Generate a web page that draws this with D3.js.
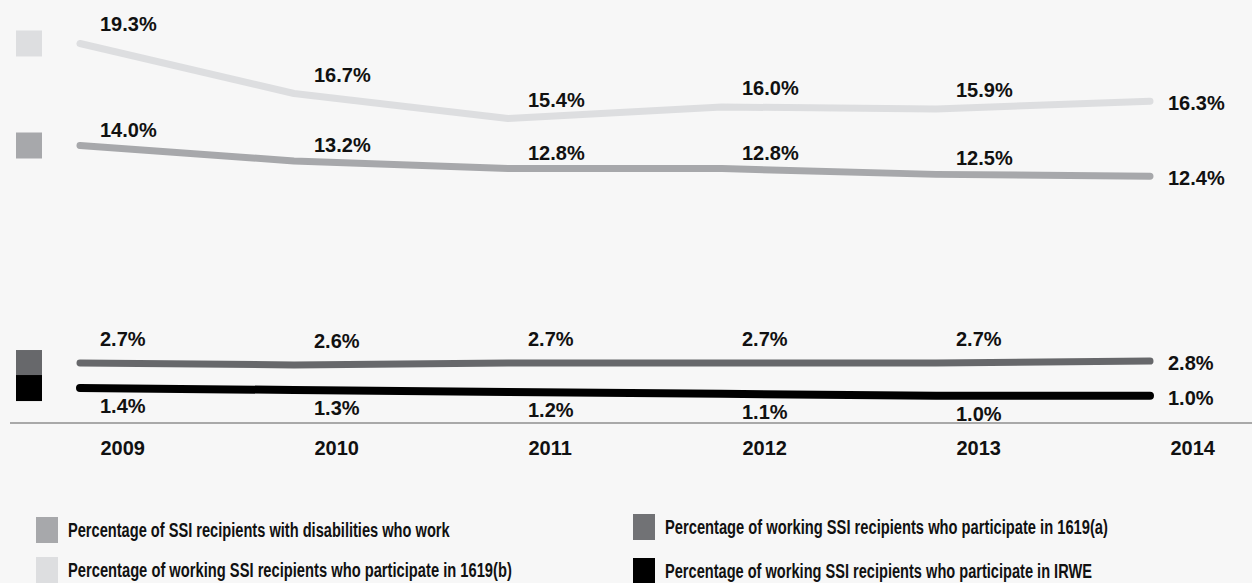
<!DOCTYPE html>
<html>
<head>
<meta charset="utf-8">
<script src="https://cdn.jsdelivr.net/npm/d3@7"></script>
<style>
  html, body { margin: 0; padding: 0; background: #f7f7f7; }
  svg { display: block; }
  text { font-family: "Liberation Sans", Arial, sans-serif; font-weight: bold; fill: #111; }
</style>
</head>
<body>
<svg id="chart" width="1252" height="583"></svg>
<script>
// Years on the horizontal axis
const years = ["2009", "2010", "2011", "2012", "2013", "2014"];

// Series values (percent)
const workValues    = [14.0, 13.2, 12.8, 12.8, 12.5, 12.4];
const b1619Values   = [19.3, 16.7, 15.4, 16.0, 15.9, 16.3];
const a1619Values   = [2.7, 2.6, 2.7, 2.7, 2.7, 2.8];
const irweValues    = [1.4, 1.3, 1.2, 1.1, 1.0, 1.0];

const seriesNames = [
  "Percentage of SSI recipients with disabilities who work",
  "Percentage of working SSI recipients who participate in 1619(b)",
  "Percentage of working SSI recipients who participate in 1619(a)",
  "Percentage of working SSI recipients who participate in IRWE"
];

const series = [
  { name: seriesNames[1], values: b1619Values, color: "#dddee0", width: 7, labelDy: -12 },
  { name: seriesNames[0], values: workValues,  color: "#a7a8ab", width: 7, labelDy: -9 },
  { name: seriesNames[2], values: a1619Values, color: "#67686b", width: 7, labelDy: -17 },
  { name: seriesNames[3], values: irweValues,  color: "#000000", width: 8, labelDy: 25 }
];

const svg = d3.select("#chart");

const x = d3.scalePoint().domain(years).range([80, 1150]);
const y = d3.scaleLinear().domain([0, 20]).range([415, 30]);

// Baseline
svg.append("line")
  .attr("x1", 10).attr("x2", 1252)
  .attr("y1", 423).attr("y2", 423)
  .attr("stroke", "#a9a9a9").attr("stroke-width", 2);

// Year labels
const xAxis = d3.axisBottom(x).tickSize(0).tickPadding(0);
const axisG = svg.append("g").attr("transform", "translate(0,440)").call(xAxis);
axisG.select(".domain").remove();
axisG.selectAll("text")
  .attr("text-anchor", "start")
  .attr("dx", 20)
  .attr("y", 15)
  .attr("dy", 0)
  .style("font-size", "20px")
  .style("font-family", "'Liberation Sans', Arial, sans-serif")
  .style("font-weight", "bold")
  .attr("fill", "#111");

const line = d3.line().x((d, i) => x(years[i])).y(d => y(d));

series.forEach(s => {
  // swatch at the left of each line
  svg.append("rect")
    .attr("x", 16).attr("width", 26)
    .attr("y", y(s.values[0]) - 13).attr("height", 26)
    .attr("fill", s.color);

  svg.append("path")
    .datum(s.values)
    .attr("d", line)
    .attr("fill", "none")
    .attr("stroke", s.color)
    .attr("stroke-width", s.width)
    .attr("stroke-linecap", "round")
    .attr("stroke-linejoin", "round");

  svg.append("g").selectAll("text")
    .data(s.values)
    .join("text")
    .attr("x", (d, i) => x(years[i]) + (i === years.length - 1 ? 18 : 20))
    .attr("y", (d, i) => y(d) + (i === years.length - 1 ? 9 : s.labelDy))
    .style("font-size", "20px")
    .text(d => d.toFixed(1) + "%");
});

// Legend; each label is squeezed horizontally to its target width
const legendItems = [
  { name: seriesNames[0], color: "#a7a8ab", x: 36, y: 517, w: 382 },
  { name: seriesNames[1], color: "#dddee0", x: 36, y: 557, w: 444 },
  { name: seriesNames[2], color: "#717275", x: 633, y: 514, w: 443 },
  { name: seriesNames[3], color: "#000000", x: 633, y: 558, w: 427 }
];
const lg = svg.append("g").selectAll("g").data(legendItems).join("g")
  .attr("transform", d => `translate(${d.x},${d.y})`);
lg.append("rect").attr("width", 22).attr("height", 26).attr("fill", d => d.color);
lg.append("g")
  .attr("transform", "translate(32,20)")
  .append("text")
  .style("font-size", "21px")
  .text(d => d.name)
  .attr("transform", function(d) {
    const len = this.getComputedTextLength();
    return `scale(${d.w / len},1)`;
  });
</script>
</body>
</html>
